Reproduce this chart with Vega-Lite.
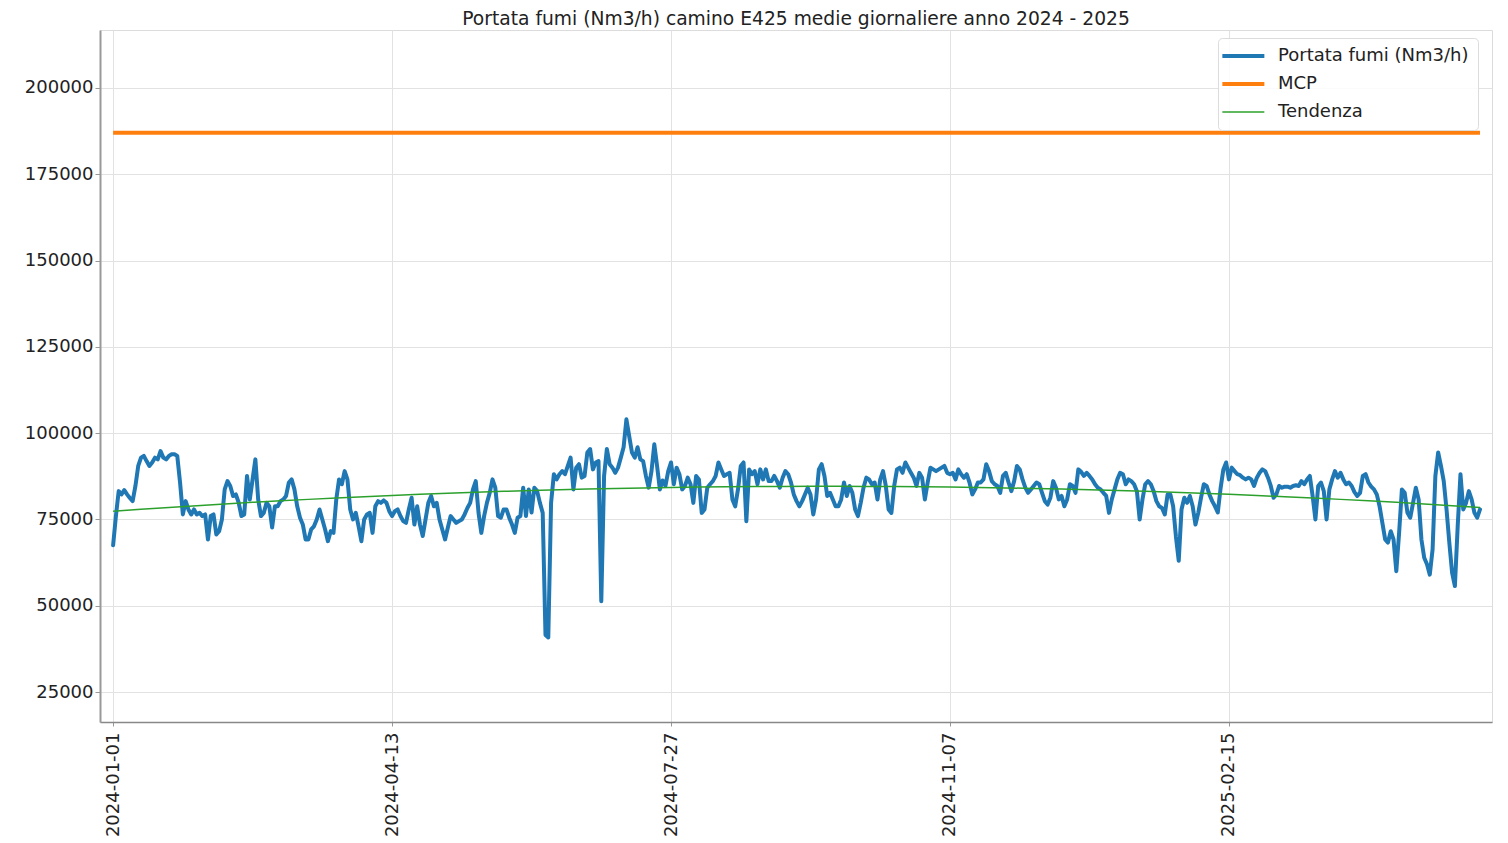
{
"$schema": "https://vega.github.io/schema/vega-lite/v6.json",
"width": 1392,
"height": 692,
"autosize": {"type": "none"},
"padding": {"left": 100, "top": 30, "right": 16, "bottom": 121},
"background": "white",
"title": {"text": "Portata fumi (Nm3/h) camino E425 medie giornaliere anno 2024 - 2025", "fontSize": 18.7, "fontWeight": "normal", "color": "#222", "offset": 1, "anchor": "middle"},
"datasets": {
"flow": [
{"i":0,"v":67500},{"i":1,"v":76000},{"i":2,"v":83200},{"i":3,"v":82250},{"i":4,"v":83500},{"i":5,"v":82250},{"i":6,"v":81200},{"i":7,"v":80300},{"i":8,"v":84700},{"i":9,"v":90500},
{"i":10,"v":92900},{"i":11,"v":93400},{"i":12,"v":91900},{"i":13,"v":90500},{"i":14,"v":91500},{"i":15,"v":92900},{"i":16,"v":92400},{"i":17,"v":94800},{"i":18,"v":92900},{"i":19,"v":92400},
{"i":20,"v":93400},{"i":21,"v":93900},{"i":22,"v":93900},{"i":23,"v":93400},{"i":24,"v":85700},{"i":25,"v":76450},{"i":26,"v":80300},{"i":27,"v":77900},{"i":28,"v":76450},{"i":29,"v":77900},
{"i":30,"v":76450},{"i":31,"v":76900},{"i":32,"v":75970},{"i":33,"v":76450},{"i":34,"v":69200},{"i":35,"v":75970},{"i":36,"v":76450},{"i":37,"v":70650},{"i":38,"v":71600},{"i":39,"v":75000},
{"i":40,"v":83700},{"i":41,"v":86100},{"i":42,"v":84700},{"i":43,"v":81800},{"i":44,"v":82250},{"i":45,"v":79900},{"i":46,"v":75970},{"i":47,"v":76450},{"i":48,"v":87600},{"i":49,"v":80800},
{"i":50,"v":86600},{"i":51,"v":92400},{"i":52,"v":80800},{"i":53,"v":75970},{"i":54,"v":76900},{"i":55,"v":79800},{"i":56,"v":78800},{"i":57,"v":72650},{"i":58,"v":78800},{"i":59,"v":78800},
{"i":60,"v":80300},{"i":61,"v":80800},{"i":62,"v":81800},{"i":63,"v":85700},{"i":64,"v":86600},{"i":65,"v":83700},{"i":66,"v":78800},{"i":67,"v":75500},{"i":68,"v":73550},{"i":69,"v":69200},
{"i":70,"v":69200},{"i":71,"v":72100},{"i":72,"v":73000},{"i":73,"v":75000},{"i":74,"v":77900},{"i":75,"v":75000},{"i":76,"v":72100},{"i":77,"v":68700},{"i":78,"v":71600},{"i":79,"v":71100},
{"i":80,"v":80800},{"i":81,"v":86600},{"i":82,"v":85200},{"i":83,"v":89000},{"i":84,"v":86600},{"i":85,"v":77900},{"i":86,"v":75000},{"i":87,"v":76900},{"i":88,"v":73000},{"i":89,"v":68700},
{"i":90,"v":75000},{"i":91,"v":76450},{"i":92,"v":76900},{"i":93,"v":71100},{"i":94,"v":78800},{"i":95,"v":80300},{"i":96,"v":79800},{"i":97,"v":80500},{"i":98,"v":79800},{"i":99,"v":77400},
{"i":100,"v":75970},{"i":101,"v":77400},{"i":102,"v":77900},{"i":103,"v":75970},{"i":104,"v":74500},{"i":105,"v":74000},{"i":106,"v":77900},{"i":107,"v":81300},{"i":108,"v":73500},{"i":109,"v":78800},
{"i":110,"v":73500},{"i":111,"v":70200},{"i":112,"v":75000},{"i":113,"v":79800},{"i":114,"v":81800},{"i":115,"v":78800},{"i":116,"v":79800},{"i":117,"v":75000},{"i":118,"v":72100},{"i":119,"v":69200},
{"i":120,"v":72650},{"i":121,"v":75970},{"i":122,"v":75000},{"i":123,"v":74000},{"i":124,"v":74500},{"i":125,"v":75000},{"i":126,"v":76450},{"i":127,"v":78300},{"i":128,"v":79800},{"i":129,"v":83700},
{"i":130,"v":86100},{"i":131,"v":76900},{"i":132,"v":71100},{"i":133,"v":75970},{"i":134,"v":79800},{"i":135,"v":82700},{"i":136,"v":86600},{"i":137,"v":84200},{"i":138,"v":75970},{"i":139,"v":75500},
{"i":140,"v":77900},{"i":141,"v":77900},{"i":142,"v":75500},{"i":143,"v":73500},{"i":144,"v":71100},{"i":145,"v":75500},{"i":146,"v":76000},{"i":147,"v":84200},{"i":148,"v":76000},{"i":149,"v":83700},
{"i":150,"v":77000},{"i":151,"v":84200},{"i":152,"v":83200},{"i":153,"v":79800},{"i":154,"v":76900},{"i":155,"v":41500},{"i":156,"v":40800},{"i":157,"v":79800},{"i":158,"v":88100},{"i":159,"v":86600},
{"i":160,"v":88100},{"i":161,"v":89000},{"i":162,"v":88100},{"i":163,"v":90500},{"i":164,"v":92900},{"i":165,"v":83700},{"i":166,"v":90000},{"i":167,"v":91000},{"i":168,"v":87100},{"i":169,"v":87600},
{"i":170,"v":94400},{"i":171,"v":95400},{"i":172,"v":89500},{"i":173,"v":91500},{"i":174,"v":91900},{"i":175,"v":51300},{"i":176,"v":87600},{"i":177,"v":95400},{"i":178,"v":91000},{"i":179,"v":90000},
{"i":180,"v":88500},{"i":181,"v":90000},{"i":182,"v":92900},{"i":183,"v":95900},{"i":184,"v":104000},{"i":185,"v":99150},{"i":186,"v":94400},{"i":187,"v":92900},{"i":188,"v":95900},{"i":189,"v":92400},
{"i":190,"v":91900},{"i":191,"v":87600},{"i":192,"v":84200},{"i":193,"v":89000},{"i":194,"v":96750},{"i":195,"v":90500},{"i":196,"v":83700},{"i":197,"v":86300},{"i":198,"v":84700},{"i":199,"v":89000},
{"i":200,"v":91500},{"i":201,"v":85200},{"i":202,"v":90000},{"i":203,"v":88100},{"i":204,"v":83700},{"i":205,"v":84700},{"i":206,"v":87100},{"i":207,"v":85200},{"i":208,"v":79800},{"i":209,"v":87600},
{"i":210,"v":86600},{"i":211,"v":76900},{"i":212,"v":77900},{"i":213,"v":84200},{"i":214,"v":85200},{"i":215,"v":86100},{"i":216,"v":87600},{"i":217,"v":91500},{"i":218,"v":89500},{"i":219,"v":87600},
{"i":220,"v":88100},{"i":221,"v":88500},{"i":222,"v":80800},{"i":223,"v":78800},{"i":224,"v":83700},{"i":225,"v":90500},{"i":226,"v":91500},{"i":227,"v":74500},{"i":228,"v":89500},{"i":229,"v":88100},
{"i":230,"v":89000},{"i":231,"v":85200},{"i":232,"v":89500},{"i":233,"v":86600},{"i":234,"v":89500},{"i":235,"v":86100},{"i":236,"v":86100},{"i":237,"v":87600},{"i":238,"v":86100},{"i":239,"v":84200},
{"i":240,"v":87100},{"i":241,"v":89000},{"i":242,"v":88100},{"i":243,"v":85700},{"i":244,"v":82250},{"i":245,"v":80300},{"i":246,"v":78800},{"i":247,"v":80300},{"i":248,"v":82250},{"i":249,"v":84200},
{"i":250,"v":82250},{"i":251,"v":76450},{"i":252,"v":80800},{"i":253,"v":89500},{"i":254,"v":91000},{"i":255,"v":87600},{"i":256,"v":81800},{"i":257,"v":82700},{"i":258,"v":80800},{"i":259,"v":78800},
{"i":260,"v":78800},{"i":261,"v":80800},{"i":262,"v":85700},{"i":263,"v":81800},{"i":264,"v":84700},{"i":265,"v":82700},{"i":266,"v":77900},{"i":267,"v":75970},{"i":268,"v":79800},{"i":269,"v":84200},
{"i":270,"v":87100},{"i":271,"v":86600},{"i":272,"v":85200},{"i":273,"v":85700},{"i":274,"v":80800},{"i":275,"v":86600},{"i":276,"v":89000},{"i":277,"v":84700},{"i":278,"v":77900},{"i":279,"v":76900},
{"i":280,"v":84700},{"i":281,"v":89500},{"i":282,"v":90000},{"i":283,"v":88500},{"i":284,"v":91500},{"i":285,"v":90000},{"i":286,"v":88500},{"i":287,"v":87100},{"i":288,"v":84700},{"i":289,"v":88500},
{"i":290,"v":87100},{"i":291,"v":80800},{"i":292,"v":85700},{"i":293,"v":90000},{"i":294,"v":89500},{"i":295,"v":89000},{"i":296,"v":89500},{"i":297,"v":90000},{"i":298,"v":90500},{"i":299,"v":88500},
{"i":300,"v":88100},{"i":301,"v":88500},{"i":302,"v":86600},{"i":303,"v":89500},{"i":304,"v":88100},{"i":305,"v":87100},{"i":306,"v":88100},{"i":307,"v":85700},{"i":308,"v":82250},{"i":309,"v":83700},
{"i":310,"v":85700},{"i":311,"v":85700},{"i":312,"v":86600},{"i":313,"v":91000},{"i":314,"v":89000},{"i":315,"v":86100},{"i":316,"v":85200},{"i":317,"v":84700},{"i":318,"v":82700},{"i":319,"v":87600},
{"i":320,"v":88500},{"i":321,"v":85700},{"i":322,"v":83200},{"i":323,"v":86100},{"i":324,"v":90500},{"i":325,"v":89500},{"i":326,"v":86600},{"i":327,"v":84200},{"i":328,"v":82700},{"i":329,"v":83700},
{"i":330,"v":84700},{"i":331,"v":85700},{"i":332,"v":85200},{"i":333,"v":82700},{"i":334,"v":80300},{"i":335,"v":79300},{"i":336,"v":81300},{"i":337,"v":86100},{"i":338,"v":84200},{"i":339,"v":80800},
{"i":340,"v":81800},{"i":341,"v":78800},{"i":342,"v":80800},{"i":343,"v":85200},{"i":344,"v":84700},{"i":345,"v":82700},{"i":346,"v":89500},{"i":347,"v":88800},{"i":348,"v":87600},{"i":349,"v":88500},
{"i":350,"v":87600},{"i":351,"v":86600},{"i":352,"v":85200},{"i":353,"v":84200},{"i":354,"v":83700},{"i":355,"v":82700},{"i":356,"v":81800},{"i":357,"v":76900},{"i":358,"v":80800},{"i":359,"v":83700},
{"i":360,"v":86600},{"i":361,"v":88500},{"i":362,"v":88100},{"i":363,"v":85200},{"i":364,"v":86600},{"i":365,"v":86100},{"i":366,"v":85200},{"i":367,"v":83200},{"i":368,"v":75000},{"i":369,"v":80800},
{"i":370,"v":85200},{"i":371,"v":86100},{"i":372,"v":85200},{"i":373,"v":83200},{"i":374,"v":80300},{"i":375,"v":78800},{"i":376,"v":78300},{"i":377,"v":76450},{"i":378,"v":82250},{"i":379,"v":82250},
{"i":380,"v":78800},{"i":381,"v":70000},{"i":382,"v":63000},{"i":383,"v":77900},{"i":384,"v":81300},{"i":385,"v":79800},{"i":386,"v":81800},{"i":387,"v":78800},{"i":388,"v":73500},{"i":389,"v":76900},
{"i":390,"v":81300},{"i":391,"v":85200},{"i":392,"v":84700},{"i":393,"v":82250},{"i":394,"v":80300},{"i":395,"v":78800},{"i":396,"v":77000},{"i":397,"v":84000},{"i":398,"v":89500},{"i":399,"v":91500},
{"i":400,"v":86600},{"i":401,"v":90000},{"i":402,"v":89000},{"i":403,"v":88100},{"i":404,"v":87800},{"i":405,"v":87100},{"i":406,"v":86600},{"i":407,"v":87100},{"i":408,"v":86600},{"i":409,"v":84700},
{"i":410,"v":87100},{"i":411,"v":88500},{"i":412,"v":89500},{"i":413,"v":89000},{"i":414,"v":87100},{"i":415,"v":84700},{"i":416,"v":81300},{"i":417,"v":82250},{"i":418,"v":84700},{"i":419,"v":84200},
{"i":420,"v":84500},{"i":421,"v":84500},{"i":422,"v":84200},{"i":423,"v":84700},{"i":424,"v":84900},{"i":425,"v":84700},{"i":426,"v":86100},{"i":427,"v":85200},{"i":428,"v":86600},{"i":429,"v":87600},
{"i":430,"v":81800},{"i":431,"v":75000},{"i":432,"v":84700},{"i":433,"v":85700},{"i":434,"v":83200},{"i":435,"v":75000},{"i":436,"v":83700},{"i":437,"v":86600},{"i":438,"v":89000},{"i":439,"v":87100},
{"i":440,"v":88500},{"i":441,"v":86600},{"i":442,"v":85200},{"i":443,"v":85700},{"i":444,"v":84700},{"i":445,"v":82900},{"i":446,"v":81800},{"i":447,"v":82700},{"i":448,"v":87600},{"i":449,"v":88100},
{"i":450,"v":85700},{"i":451,"v":84500},{"i":452,"v":83700},{"i":453,"v":82250},{"i":454,"v":78800},{"i":455,"v":74000},{"i":456,"v":69200},{"i":457,"v":68300},{"i":458,"v":71600},{"i":459,"v":69200},
{"i":460,"v":60000},{"i":461,"v":71100},{"i":462,"v":83700},{"i":463,"v":82700},{"i":464,"v":76900},{"i":465,"v":75500},{"i":466,"v":79800},{"i":467,"v":84200},{"i":468,"v":80800},{"i":469,"v":69200},
{"i":470,"v":63900},{"i":471,"v":62000},{"i":472,"v":59000},{"i":473,"v":66300},{"i":474,"v":87600},{"i":475,"v":94400},{"i":476,"v":90500},{"i":477,"v":86100},{"i":478,"v":77900},{"i":479,"v":68300},
{"i":480,"v":59500},{"i":481,"v":55700},{"i":482,"v":73000},{"i":483,"v":88100},{"i":484,"v":77900},{"i":485,"v":79800},{"i":486,"v":83200},{"i":487,"v":80800},{"i":488,"v":76900},{"i":489,"v":75500},
{"i":490,"v":77900}
],
"mcp": [{"i":0,"v":187000},{"i":490,"v":187000}],
"trend": [
{"i":0,"v":77400},{"i":10,"v":77955},{"i":20,"v":78490},{"i":30,"v":78995},{"i":40,"v":79480},{"i":50,"v":79950},{"i":60,"v":80390},{"i":70,"v":80810},{"i":80,"v":81210},{"i":90,"v":81590},
{"i":100,"v":81940},{"i":110,"v":82270},{"i":120,"v":82580},{"i":130,"v":82870},{"i":140,"v":83140},{"i":150,"v":83380},{"i":160,"v":83600},{"i":170,"v":83800},{"i":180,"v":83980},{"i":190,"v":84130},
{"i":200,"v":84265},{"i":210,"v":84375},{"i":220,"v":84465},{"i":230,"v":84530},{"i":240,"v":84575},{"i":250,"v":84597},{"i":260,"v":84597},{"i":270,"v":84575},{"i":280,"v":84530},{"i":290,"v":84465},
{"i":300,"v":84375},{"i":310,"v":84265},{"i":320,"v":84130},{"i":330,"v":83980},{"i":340,"v":83800},{"i":350,"v":83600},{"i":360,"v":83380},{"i":370,"v":83140},{"i":380,"v":82870},{"i":390,"v":82580},
{"i":400,"v":82270},{"i":410,"v":81940},{"i":420,"v":81590},{"i":430,"v":81210},{"i":440,"v":80810},{"i":450,"v":80390},{"i":460,"v":79950},{"i":470,"v":79480},{"i":480,"v":78995},{"i":490,"v":78490}
]
},
"encoding": {
"x": {"field": "i", "type": "quantitative", "scale": {"domain": [-4.7, 494.3], "nice": false, "zero": false},
 "axis": {"title": null, "values": [0, 100, 200, 300, 400], "labelExpr": "datum.value == 0 ? '2024-01-01' : datum.value == 100 ? '2024-04-13' : datum.value == 200 ? '2024-07-27' : datum.value == 300 ? '2024-11-07' : '2025-02-15'", "labelAngle": 270, "labelFontSize": 18, "labelColor": "#222", "labelPadding": 6, "tickSize": 4, "tickColor": "#999", "domainColor": "#888", "domainWidth": 1.5, "grid": true, "gridColor": "#e2e2e2", "gridWidth": 1}},
"y": {"field": "v", "type": "quantitative", "scale": {"domain": [16310, 216800], "nice": false, "zero": false},
 "axis": {"title": null, "values": [25000, 50000, 75000, 100000, 125000, 150000, 175000, 200000], "format": "d", "labelFontSize": 18, "labelColor": "#222", "labelPadding": 2, "tickSize": 5, "tickColor": "#999", "domainColor": "#999", "domainWidth": 2, "grid": true, "gridColor": "#e2e2e2", "gridWidth": 1}}
},
"layer": [
{"data": {"name": "flow"}, "mark": {"type": "line", "strokeWidth": 4, "strokeJoin": "round", "strokeCap": "round"},
 "encoding": {
  "color": {"datum": "Portata fumi (Nm3/h)", "type": "nominal", "scale": {"domain": ["Portata fumi (Nm3/h)", "MCP", "Tendenza"], "range": ["#1f77b4", "#ff7f0e", "#2ca02c"]},
   "legend": {"encode": {"symbols": {"update": {"strokeWidth": {"signal": "datum.value == 'Tendenza' ? 1.5 : 4"}}}}}}}},
{"data": {"name": "mcp"}, "mark": {"type": "line", "strokeWidth": 4},
 "encoding": {"color": {"datum": "MCP", "type": "nominal"}}},
{"data": {"name": "trend"}, "mark": {"type": "line", "strokeWidth": 1.5},
 "encoding": {"color": {"datum": "Tendenza", "type": "nominal"}}}
],
"resolve": {"scale": {"color": "shared"}},
"config": {"font": "DejaVu Sans", "view": {"stroke": "#dcdcdc", "strokeWidth": 1},
 "legend": {"orient": "none", "legendX": 1118, "legendY": 8, "title": null, "symbolType": "M-1.3,0H2.7", "symbolSize": 441, "labelFontSize": 18, "labelColor": "#222", "labelLimit": 400, "padding": 9, "rowPadding": 10, "fillColor": "rgba(255,255,255,0.85)", "strokeColor": "#dcdcdc", "cornerRadius": 4, "labelOffset": 33}
}
}
